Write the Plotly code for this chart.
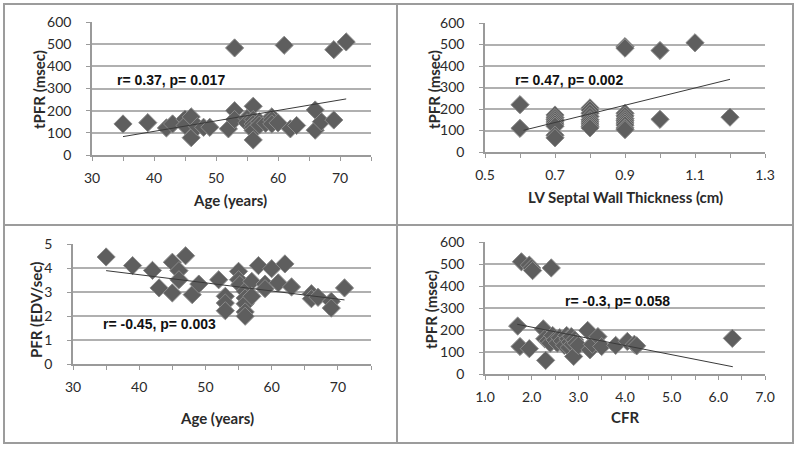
import plotly.graph_objects as go

W, H = 799, 449

# ---------------- data ----------------
# Panel A: Age vs tPFR
age_a = [35, 39, 42, 43, 45, 45, 46, 46, 47, 48, 49, 52, 53, 53, 53, 55, 55, 56, 56, 56,
         56, 56, 56, 57, 57, 58, 59, 59, 59, 60, 61, 62, 63, 66, 66, 67, 69, 69, 71]
tpfr_a = [140, 146, 122, 140, 162, 133, 172, 78, 128, 125, 125, 118, 483, 200, 160, 165, 145, 220, 160, 140,
          125, 110, 68, 150, 135, 143, 172, 158, 140, 145, 495, 118, 133, 203, 112, 150, 475, 158, 510]
trend_a_x = [35, 71]
trend_a_y = [83, 253]

# Panel B: LV septal wall thickness vs tPFR
lv_b = [0.6, 0.6,
        0.7, 0.7, 0.7, 0.7, 0.7, 0.7, 0.7, 0.7,
        0.8, 0.8, 0.8, 0.8, 0.8, 0.8, 0.8, 0.8, 0.8,
        0.9, 0.9, 0.9, 0.9, 0.9, 0.9, 0.9, 0.9, 0.9, 0.9,
        1.0, 1.0, 1.1, 1.2]
tpfr_b = [220, 110,
          172, 160, 150, 140, 130, 120, 78, 66,
          205, 195, 180, 165, 150, 140, 130, 120, 112,
          490, 483, 180, 168, 155, 145, 135, 125, 112, 104,
          472, 152, 508, 162]
trend_b_x = [0.61, 1.2]
trend_b_y = [101, 338]

# Panel C: Age vs PFR
age_c = [35, 39, 42, 43, 45, 45, 46, 46, 47, 48, 49, 52, 53, 53, 53, 55, 55, 55.2, 56, 56,
         56, 56, 56, 57, 57, 58, 59, 59, 60, 61, 62, 63, 66, 66, 67, 69, 69, 71]
pfr_c = [4.46, 4.10, 3.90, 3.17, 4.24, 2.96, 3.89, 3.51, 4.51, 2.89, 3.33, 3.51, 2.82, 2.54, 2.22, 3.86, 3.51, 3.31, 3.03, 2.75,
         2.51, 2.17, 1.99, 3.44, 2.82, 4.10, 3.33, 3.14, 3.97, 3.38, 4.17, 3.21, 2.93, 2.72, 2.78, 2.61, 2.33, 3.17]
trend_c_x = [35, 71]
trend_c_y = [3.89, 2.67]

# Panel D: CFR vs tPFR
cfr_d = [1.78, 1.95, 2.0, 2.02, 2.42, 1.70, 1.75, 1.95, 2.25, 2.30, 2.28, 2.35, 2.40, 2.45, 2.5, 2.55,
         2.6, 2.65, 2.7, 2.75, 2.78, 2.8, 2.82, 2.85, 2.88, 2.9, 2.92, 2.95, 3.0, 3.2, 3.25, 3.3,
         3.42, 3.5, 3.8, 4.05, 4.2, 4.25, 6.3]
tpfr_d = [510, 495, 482, 470, 482, 218, 125, 115, 205, 62, 160, 150, 140, 175, 155, 140,
          165, 150, 130, 175, 160, 120, 145, 170, 135, 80, 155, 140, 130, 198, 110, 135,
          170, 125, 130, 148, 135, 128, 162]
trend_d_x = [1.69, 6.31]
trend_d_y = [226, 33]

labels = ["r= 0.37, p= 0.017", "r= 0.47, p= 0.002", "r= -0.45, p= 0.003", "r= -0.3, p= 0.058"]
xtitles = ["Age (years)", "LV Septal Wall Thickness (cm)", "Age (years)", "CFR"]
ytitles = ["tPFR (msec)", "tPFR (msec)", "PFR (EDV/sec)", "tPFR (msec)"]

# ---------------- figure ----------------
def px_x(p):
    return p / W

def px_y(p):
    return 1 - p / H

panels = [
    dict(xs=age_a, ys=tpfr_a, tx=trend_a_x, ty=trend_a_y,
         xdom=[px_x(92), px_x(371)], ydom=[px_y(155), px_y(22)],
         xr=[30, 75], xd=10, xminor=5, xfmt="", yr=[0, 600], yd=100,
         lab=(33.7, 340), xt=(230, 200), yt=(39, 90)),
    dict(xs=lv_b, ys=tpfr_b, tx=trend_b_x, ty=trend_b_y,
         xdom=[px_x(485), px_x(765)], ydom=[px_y(152), px_y(23)],
         xr=[0.5, 1.3], xd=0.2, xminor=0.1, xfmt=".1f", yr=[0, 600], yd=100,
         lab=(0.58, 336), xt=(625, 197), yt=(434, 90)),
    dict(xs=age_c, ys=pfr_c, tx=trend_c_x, ty=trend_c_y,
         xdom=[px_x(73), px_x(371)], ydom=[px_y(364), px_y(244)],
         xr=[30, 75], xd=10, xminor=5, xfmt="", yr=[0, 5], yd=1,
         lab=(34.2, 1.68), xt=(217, 418), yt=(36, 310)),
    dict(xs=cfr_d, ys=tpfr_d, tx=trend_d_x, ty=trend_d_y,
         xdom=[px_x(485), px_x(765)], ydom=[px_y(374), px_y(242)],
         xr=[1.0, 7.0], xd=1, xminor=0.5, xfmt=".1f", yr=[0, 600], yd=100,
         lab=(2.67, 333), xt=(625, 417), yt=(431, 310)),
]

fig = go.Figure()
layout = dict(width=W, height=H, margin=dict(l=0, r=0, t=0, b=0),
              paper_bgcolor="white", plot_bgcolor="white", showlegend=False)
annotations = []
tick_font = dict(family="Lato, 'Open Sans', sans-serif", size=14, color="#2a2a2a")
title_font = dict(family="Lato, 'Open Sans', sans-serif", size=15, color="#2a2a2a")
grid_col = "#b0b0b0"
axis_col = "#9a9a9a"

for i, p in enumerate(panels):
    n = "" if i == 0 else str(i + 1)
    xa, ya = "x" + n, "y" + n
    fig.add_trace(go.Scatter(x=p["xs"], y=p["ys"], mode="markers", xaxis=xa, yaxis=ya,
                             marker=dict(symbol="diamond", size=14, color="#5e5e5e",
                                         line=dict(color="#8a8a8a", width=1))))
    fig.add_trace(go.Scatter(x=p["tx"], y=p["ty"], mode="lines", xaxis=xa, yaxis=ya,
                             line=dict(color="#3a3a3a", width=1)))
    layout["xaxis" + n] = dict(domain=p["xdom"], anchor=ya, range=p["xr"], dtick=p["xd"],
                               tick0=p["xr"][0], tickformat=p["xfmt"], automargin=False,
                               showgrid=False, zeroline=False, showline=True, linecolor=axis_col,
                               linewidth=1.5, ticks="outside", ticklen=4, tickcolor=axis_col,
                               tickfont=tick_font, fixedrange=True, ticklabelstandoff=5,
                               minor=dict(dtick=p["xminor"], tick0=p["xr"][0], ticks="outside",
                                          ticklen=4, tickcolor=axis_col, showgrid=False))
    layout["yaxis" + n] = dict(domain=p["ydom"], anchor=xa, range=p["yr"], dtick=p["yd"],
                               showgrid=True, gridcolor=grid_col, gridwidth=1.5, zeroline=False,
                               showline=True, linecolor=axis_col, linewidth=1.5, automargin=False,
                               ticks="outside", ticklen=4, tickcolor=axis_col,
                               tickfont=tick_font, fixedrange=True, ticklabelstandoff=12)
    annotations.append(dict(x=p["lab"][0], y=p["lab"][1], xref=xa, yref=ya, text="<b>" + labels[i] + "</b>",
                            showarrow=False, xanchor="left", yanchor="middle",
                            font=dict(family="'Liberation Sans Narrow', 'Arial Narrow', 'Liberation Sans', sans-serif",
                                      size=14, color="#111")))
    annotations.append(dict(x=px_x(p["xt"][0]), y=px_y(p["xt"][1]), xref="paper", yref="paper",
                            text="<b>" + xtitles[i] + "</b>", showarrow=False,
                            xanchor="center", yanchor="middle", font=title_font))
    annotations.append(dict(x=px_x(p["yt"][0]), y=px_y(p["yt"][1]), xref="paper", yref="paper",
                            text="<b>" + ytitles[i] + "</b>", showarrow=False, textangle=-90,
                            xanchor="center", yanchor="middle", font=title_font))

frame_col = "#9c9c9c"
shapes = [
    dict(type="rect", xref="paper", yref="paper", x0=px_x(4), x1=px_x(793), y0=px_y(443), y1=px_y(4),
         line=dict(color=frame_col, width=2)),
    dict(type="line", xref="paper", yref="paper", x0=px_x(397), x1=px_x(397), y0=px_y(443), y1=px_y(4),
         line=dict(color=frame_col, width=2)),
    dict(type="line", xref="paper", yref="paper", x0=px_x(4), x1=px_x(793), y0=px_y(225), y1=px_y(225),
         line=dict(color=frame_col, width=2)),
]
layout["annotations"] = annotations
layout["shapes"] = shapes
fig.update_layout(**layout)
fig.write_html("out.html", post_script="document.body.style.margin='0px';",
               config={"displayModeBar": False})
